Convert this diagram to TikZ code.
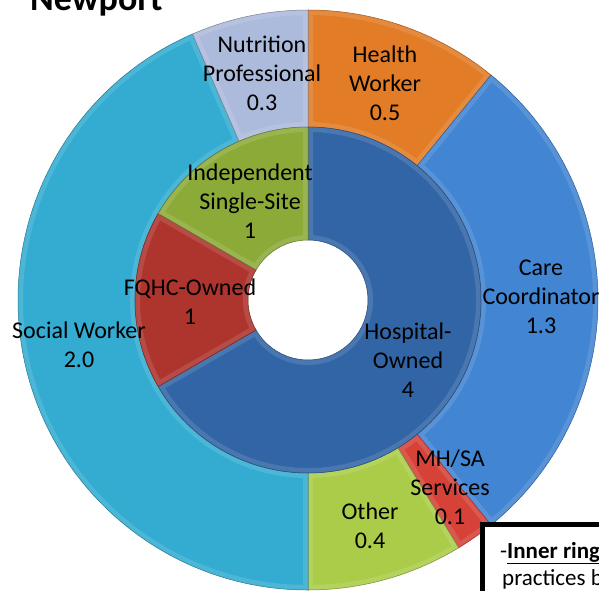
\documentclass[tikz,border=0pt]{standalone}
\usepackage{fontspec}
\setmainfont{Carlito}
\definecolor{cHealth}{RGB}{226,124,38}
\definecolor{cCare}{RGB}{66,133,210}
\definecolor{cMH}{RGB}{214,66,56}
\definecolor{cOther}{RGB}{170,204,72}
\definecolor{cSocial}{RGB}{52,172,210}
\definecolor{cNutri}{RGB}{172,186,220}
\definecolor{cHosp}{RGB}{50,101,166}
\definecolor{cFQHC}{RGB}{174,52,46}
\definecolor{cIndep}{RGB}{140,170,56}
\newcommand{\donutseg}[5]{%
  \fill[#1] (#2:#5) arc[start angle=#2,end angle=#3,radius=#5] -- (#3:#4) arc[start angle=#3,end angle=#2,radius=#4] -- cycle;
  \begin{scope}
    \clip (#2:#5) arc[start angle=#2,end angle=#3,radius=#5] -- (#3:#4) arc[start angle=#3,end angle=#2,radius=#4] -- cycle;
    \draw[white,opacity=.12,line width=10pt] (#2:#5) arc[start angle=#2,end angle=#3,radius=#5] -- (#3:#4) arc[start angle=#3,end angle=#2,radius=#4] -- cycle;
  \end{scope}
  \draw[#1!70!black,line width=.5pt] (#2:#5) arc[start angle=#2,end angle=#3,radius=#5] -- (#3:#4) arc[start angle=#3,end angle=#2,radius=#4] -- cycle;
}
\tikzset{
  lbl/.style={font=\fontsize{24}{28.8}\selectfont, align=center, text=black, inner sep=0pt},
}
\begin{document}
\begin{tikzpicture}[x=1pt,y=1pt]
\useasboundingbox (0,0) rectangle (599,590);
\clip (0,0) rectangle (599,590);
\fill[white] (0,0) rectangle (599,590);
\begin{scope}[shift={(308,290)}]
  % outer ring
  \donutseg{cHealth}{90}{50.87}{173}{290}
  \donutseg{cCare}{50.87}{-50.87}{173}{290}
  \donutseg{cMH}{-50.87}{-58.70}{173}{290}
  \donutseg{cOther}{-58.70}{-90}{173}{290}
  \donutseg{cSocial}{-90}{-246.52}{173}{290}
  \donutseg{cNutri}{-246.52}{-270}{173}{290}
  % inner ring
  \donutseg{cHosp}{90}{-150}{60}{173}
  \donutseg{cFQHC}{-150}{-210}{60}{173}
  \donutseg{cIndep}{-210}{-270}{60}{173}
\end{scope}
% labels
\node[lbl] (nutri) at (262,517) {Nutrition\\Professional\\0.3};
\node[lbl] (health) at (385,507) {Health\\Worker\\0.5};
\node[lbl] (care) at (541,293) {Care\\Coordinator\\1.3};
\node[lbl] (social) at (79,245) {Social Worker\\2.0};
\node[lbl] (indep) at (250,389) {Independent\\Single-Site\\1};
\node[lbl] (fqhc) at (190,288.5) {FQHC-Owned\\1};
\node[lbl] (hosp) at (408,230) {Hospital-\\Owned\\4};
\node[lbl] (mhsa) at (450,103) {MH/SA\\Services\\0.1};
\node[lbl] (other) at (370,64.5) {Other\\0.4};
% title
\node[anchor=base west,inner sep=0pt,font=\fontsize{36}{40}\selectfont\bfseries] (title) at (30,579) {Newport};
% text box
\draw[line width=5pt,fill=white] (482.5,65.5) rectangle (720,-60);
\node[anchor=base west,inner sep=0pt,font=\fontsize{23}{27}\selectfont] (boxl1) at (500,32) {-\textbf{\underline{Inner ring}}};
\node[anchor=base west,inner sep=0pt,font=\fontsize{23}{27}\selectfont] (boxl2) at (502,5) {practices b};
\end{tikzpicture}
\end{document}
